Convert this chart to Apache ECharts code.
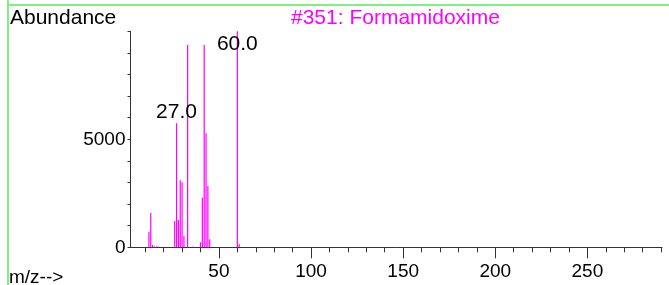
<!DOCTYPE html>
<html>
<head>
<meta charset="utf-8">
<script src="https://cdn.jsdelivr.net/npm/echarts@6/dist/echarts.min.js"></script>
<style>
  html, body { margin: 0; padding: 0; background: #fff; }
  #main { width: 669px; height: 285px; }
</style>
</head>
<body>
<div id="main"></div>
<script>
// spectrum data
const mzValues = [12, 13, 14, 15, 16, 17, 20, 26, 27, 28, 29, 30, 31, 33, 36, 40, 41, 42, 43, 44, 45, 60, 61];
const abundance = [725, 1590, 110, 40, 40, 40, 30, 1220, 5740, 1265, 3100, 3010, 525, 9370, 40, 230, 2300, 9370, 5280, 2840, 370, 10000, 150];
// peaks that carry a label
const labelledMz = [27, 60];
const labelText = ['27.0', '60.0'];
// axis ticks / labels
const xMinorTicks = [10, 20, 30, 40, 50, 60, 70, 80, 90, 100, 110, 120, 130, 140, 150, 160, 170, 180, 190, 200, 210, 220, 230, 240, 250, 260, 270, 280, 290];
const xMajorTicks = [50, 100, 150, 200, 250];
const yTickLabels = [0, 5000];

const FONT = '"Liberation Sans", Arial, sans-serif';
const MAGENTA = '#ff00ff';

let seriesData = mzValues.map((mz, i) => {
  let item = { value: [mz, abundance[i]] };
  let k = labelledMz.indexOf(mz);
  if (k >= 0) {
    item.label = {
      show: true,
      formatter: labelText[k],
      color: '#000',
      fontSize: 21,
      fontFamily: FONT,
      // the base peak reaches the top, so its label sits inside the frame
      position: abundance[i] >= 10000 ? 'insideTop' : 'top',
      distance: abundance[i] >= 10000 ? 2 : 1
    };
  }
  return item;
});

let chart = echarts.init(document.getElementById('main'), null, { renderer: 'canvas' });

let option = {
  animation: false,
  backgroundColor: '#fff',
  grid: { left: 130.5, right: 7, top: 31.3, bottom: 37.7 },
  xAxis: [
    {
      // minor ticks every 10
      type: 'value', min: 2, max: 290.5,
      axisLine: { show: true, lineStyle: { color: '#333', width: 1 } },
      axisTick: { show: true, length: 5, customValues: xMinorTicks, lineStyle: { color: '#333' } },
      axisLabel: { show: false },
      splitLine: { show: false }
    },
    {
      // major ticks + labels every 50
      type: 'value', min: 2, max: 290.5, position: 'bottom', offset: 0,
      axisLine: { show: false },
      axisTick: { show: true, length: 11, customValues: xMajorTicks, lineStyle: { color: '#333' } },
      axisLabel: {
        show: true, customValues: xMajorTicks, margin: 15,
        color: '#000', fontSize: 19, fontFamily: FONT,
        formatter: v => String(v)
      },
      splitLine: { show: false }
    }
  ],
  yAxis: {
    type: 'value', min: 0, max: 10000, interval: 1000,
    axisLine: { show: true, lineStyle: { color: '#333', width: 1 } },
    axisTick: { show: true, length: 3, lineStyle: { color: '#333' } },
    axisLabel: {
      customValues: yTickLabels, margin: 5,
      color: '#000', fontSize: 19, fontFamily: FONT,
      formatter: v => String(v)   // no thousands separator
    },
    splitLine: { show: false }
  },
  series: [
    {
      type: 'bar',
      xAxisIndex: 0,
      barWidth: 1.2,
      itemStyle: { color: MAGENTA },
      data: seriesData
    }
  ],
  graphic: [
    // green frame
    { type: 'line', shape: { x1: 7, y1: 5, x2: 669, y2: 5 }, style: { stroke: '#80f080', lineWidth: 2 } },
    { type: 'line', shape: { x1: 8, y1: 0, x2: 8, y2: 285 }, style: { stroke: '#80f080', lineWidth: 2 } },
    { type: 'text', style: { x: 10, y: 18, text: 'Abundance', font: '21px ' + FONT, fill: '#000', textVerticalAlign: 'middle' } },
    { type: 'text', style: { x: 291, y: 18, text: '#351: Formamidoxime', font: '21px ' + FONT, fill: MAGENTA, textVerticalAlign: 'middle' } },
    { type: 'text', style: { x: 9, y: 278, text: 'm/z-->', font: '19px ' + FONT, fill: '#000', textVerticalAlign: 'middle' } }
  ]
};

chart.setOption(option);
</script>
</body>
</html>
